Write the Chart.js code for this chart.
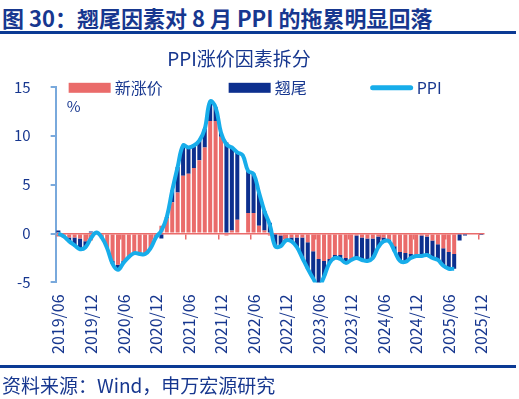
<!DOCTYPE html>
<html>
<head>
<meta charset="utf-8">
<script src="https://cdn.jsdelivr.net/npm/chart.js@4.4.1/dist/chart.umd.min.js"></script>
<style>
  body { margin: 0; background: #fff; }
  #page { position: relative; width: 519px; height: 399px; overflow: hidden; font-family: "Noto Sans CJK SC", "Noto Sans", sans-serif; color: #17378f; }
  #head { position: absolute; left: 2px; top: 1px; font-size: 22px; font-weight: bold; white-space: nowrap; }
  .rule { position: absolute; left: 0; width: 516px; height: 3px; background: #0b3a94; }
  #box { position: absolute; left: 0; top: 36px; width: 519px; height: 338px; }
  #src { position: absolute; left: 2px; top: 371px; font-size: 19px; white-space: nowrap; }
</style>
</head>
<body>
<div id="page">
  <div id="head">图 30：翘尾因素对 8 月 PPI 的拖累明显回落</div>
  <div class="rule" style="top:31px"></div>
  <div class="rule" style="top:365px"></div>
  <div id="box"><canvas id="ppi-chart" width="519" height="338"></canvas></div>
  <div id="src">资料来源：Wind，申万宏源研究</div>
</div>
<script>
// months 2019/06 .. 2025/12
var months = [
  "2019/06","2019/07","2019/08","2019/09","2019/10","2019/11","2019/12",
  "2020/01","2020/02","2020/03","2020/04","2020/05","2020/06","2020/07","2020/08","2020/09","2020/10","2020/11","2020/12",
  "2021/01","2021/02","2021/03","2021/04","2021/05","2021/06","2021/07","2021/08","2021/09","2021/10","2021/11","2021/12",
  "2022/01","2022/02","2022/03","2022/04","2022/05","2022/06","2022/07","2022/08","2022/09","2022/10","2022/11","2022/12",
  "2023/01","2023/02","2023/03","2023/04","2023/05","2023/06","2023/07","2023/08","2023/09","2023/10","2023/11","2023/12",
  "2024/01","2024/02","2024/03","2024/04","2024/05","2024/06","2024/07","2024/08","2024/09","2024/10","2024/11","2024/12",
  "2025/01","2025/02","2025/03","2025/04","2025/05","2025/06","2025/07","2025/08","2025/09","2025/10","2025/11","2025/12"
];

// 新涨价 (new price change)
var newPrice = [
  -0.3,-0.4,-0.4,-0.4,-0.5,-0.8,-0.7,
  0.0,-0.5,-1.5,-2.8,-3.2,-2.8,-2.4,-2.1,-2.0,-2.0,-1.5,-0.4,
  0.8,1.6,3.2,4.2,5.9,6.1,6.7,7.5,8.8,11.5,11.5,9.9,
  -0.2,0.3,1.4,null,2.1,2.1,0.8,0.3,-0.2,-0.1,-0.2,-0.7,
  -0.4,-0.4,-0.4,-0.9,-1.8,-2.6,-2.8,-2.6,-2.2,-2.2,-2.5,-2.8,
  -0.2,-0.4,-0.5,-0.5,-0.3,-0.4,-0.6,-1.3,-1.9,-2.0,-2.1,-2.2,
  -0.2,-0.3,-0.7,-1.1,-1.5,-1.9,-2.1,null,null,null,null,null
];

// 翘尾 (carry-over)
var carryOver = [
  0.3,0.1,-0.4,-0.8,-1.1,-0.6,0.2,
  0.1,0.1,0.0,-0.3,-0.5,-0.2,0.0,0.1,-0.1,-0.1,0.0,0.0,
  -0.5,0.1,1.2,2.6,3.1,2.7,2.3,2.0,1.9,2.0,1.4,0.4,
  9.3,8.5,6.9,null,4.3,4.0,3.4,2.0,1.1,-1.2,-1.1,0.0,
  -0.4,-1.0,-2.1,-2.7,-2.8,-2.8,-1.6,-0.4,-0.3,-0.4,-0.5,0.1,
  -2.3,-2.3,-2.3,-2.0,-1.1,-0.4,-0.2,-0.5,-0.9,-0.9,-0.4,-0.1,
  -2.1,-1.9,-1.8,-1.6,-1.8,-1.7,-1.5,-0.7,-0.2,-0.1,-0.1,-0.05
];

// PPI 同比
var ppi = [
  0.0,-0.3,-0.8,-1.2,-1.6,-1.4,-0.5,
  0.1,-0.4,-1.5,-3.1,-3.7,-3.0,-2.4,-2.0,-2.1,-2.1,-1.5,-0.4,
  0.3,1.7,4.4,6.8,9.0,8.8,9.0,9.5,10.7,13.5,12.9,10.3,
  9.1,8.8,8.3,8.0,6.4,6.1,4.2,2.3,0.9,-1.3,-1.3,-0.7,
  -0.8,-1.4,-2.5,-3.6,-4.6,-5.4,-4.4,-3.0,-2.5,-2.6,-3.0,-2.7,
  -2.5,-2.7,-2.8,-2.5,-1.4,-0.8,-0.8,-1.8,-2.8,-2.9,-2.5,-2.3,
  -2.3,-2.2,-2.5,-2.7,-3.3,-3.6,-3.6,null,null,null,null,null
];

var yTicks = [-5, 0, 5, 10, 15];

var navy = "#17378f";
var salmon = "#ea6b6a";
var darkBlue = "#0c2f8e";
var cyan = "#17adea";
var axisBlue = "#79a9dc";

Chart.defaults.font.family = '"Noto Sans CJK SC", "Noto Sans", sans-serif';
Chart.defaults.color = navy;

// legend drawn inside the plot, as in the reference
var legendItems = [
  { text: "新涨价", color: salmon, kind: "box", dx: 13 },
  { text: "翘尾", color: darkBlue, kind: "box", dx: 173 },
  { text: "PPI", color: cyan, kind: "line", dx: 315 }
];

var legendPlugin = {
  id: "insideLegend",
  afterDraw: function(chart) {
    var ctx = chart.ctx;
    var a = chart.chartArea;
    var y = a.top + 1;
    ctx.save();
    ctx.font = '16px "Noto Sans CJK SC"';
    ctx.textBaseline = "middle";
    ctx.textAlign = "left";
    legendItems.forEach(function(it) {
      var x = a.left + it.dx;
      if (it.kind === "box") {
        ctx.fillStyle = it.color;
        ctx.fillRect(x, y - 5, 42, 10);
      } else {
        ctx.strokeStyle = it.color;
        ctx.lineWidth = 5;
        ctx.lineCap = "round";
        ctx.beginPath();
        ctx.moveTo(x + 2, y);
        ctx.lineTo(x + 40, y);
        ctx.stroke();
      }
      ctx.fillStyle = navy;
      ctx.fillText(it.text, x + 46, y);
    });
    ctx.font = '15px "Noto Sans CJK SC"';
    ctx.fillText("%", a.left + 11, a.top + 19);
    ctx.restore();
  }
};

var ctx1 = document.getElementById("ppi-chart");

var chart1 = new Chart(ctx1, {
  data: {
    labels: months,
    datasets: [
      {
        type: "line",
        label: "PPI",
        data: ppi,
        borderColor: cyan,
        borderWidth: 4,
        pointRadius: 0,
        tension: 0.4,
        order: 0,
        stack: "ppi"
      },
      {
        type: "bar",
        label: "新涨价",
        data: newPrice,
        backgroundColor: salmon,
        barPercentage: 0.74,
        categoryPercentage: 1,
        order: 1,
        stack: "parts"
      },
      {
        type: "bar",
        label: "翘尾",
        data: carryOver,
        backgroundColor: darkBlue,
        barPercentage: 0.74,
        categoryPercentage: 1,
        order: 1,
        stack: "parts"
      }
    ]
  },
  options: {
    responsive: false,
    animation: false,
    layout: { padding: { left: -6, right: 35, top: 0, bottom: 8 } },
    plugins: {
      legend: { display: false },
      tooltip: { enabled: false },
      title: {
        display: true,
        text: "PPI涨价因素拆分",
        color: navy,
        font: { size: 19, weight: "normal" },
        padding: { top: 11, bottom: 17 }
      }
    },
    scales: {
      x: {
        stacked: true,
        position: "bottom",
        grid: { display: false, drawTicks: false },
        border: { display: false },
        ticks: {
          autoSkip: false,
          maxRotation: 90,
          minRotation: 90,
          padding: 12,
          color: navy,
          font: { size: 16 },
          callback: function(v, i) { return i % 6 === 0 ? months[i] : ""; }
        }
      },
      x0: {
        type: "category",
        position: { y: 0 },
        offset: true,
        grid: {
          offset: true,
          drawOnChartArea: false,
          drawTicks: true,
          tickLength: 5,
          lineWidth: 1.5,
          color: function(c) { return c.index % 6 === 0 ? salmon : "rgba(0,0,0,0)"; }
        },
        border: { color: salmon, width: 1.5 },
        ticks: { display: false }
      },
      y: {
        stacked: true,
        min: -5,
        max: 15,
        afterBuildTicks: function(s) { s.ticks = yTicks.map(function(v) { return { value: v }; }); },
        grid: { drawOnChartArea: false, drawTicks: true, tickLength: 5, color: axisBlue, lineWidth: 2 },
        border: { color: axisBlue, width: 2 },
        ticks: { color: navy, font: { size: 15 }, padding: 20 }
      }
    }
  },
  plugins: [legendPlugin]
});
</script>
</body>
</html>
